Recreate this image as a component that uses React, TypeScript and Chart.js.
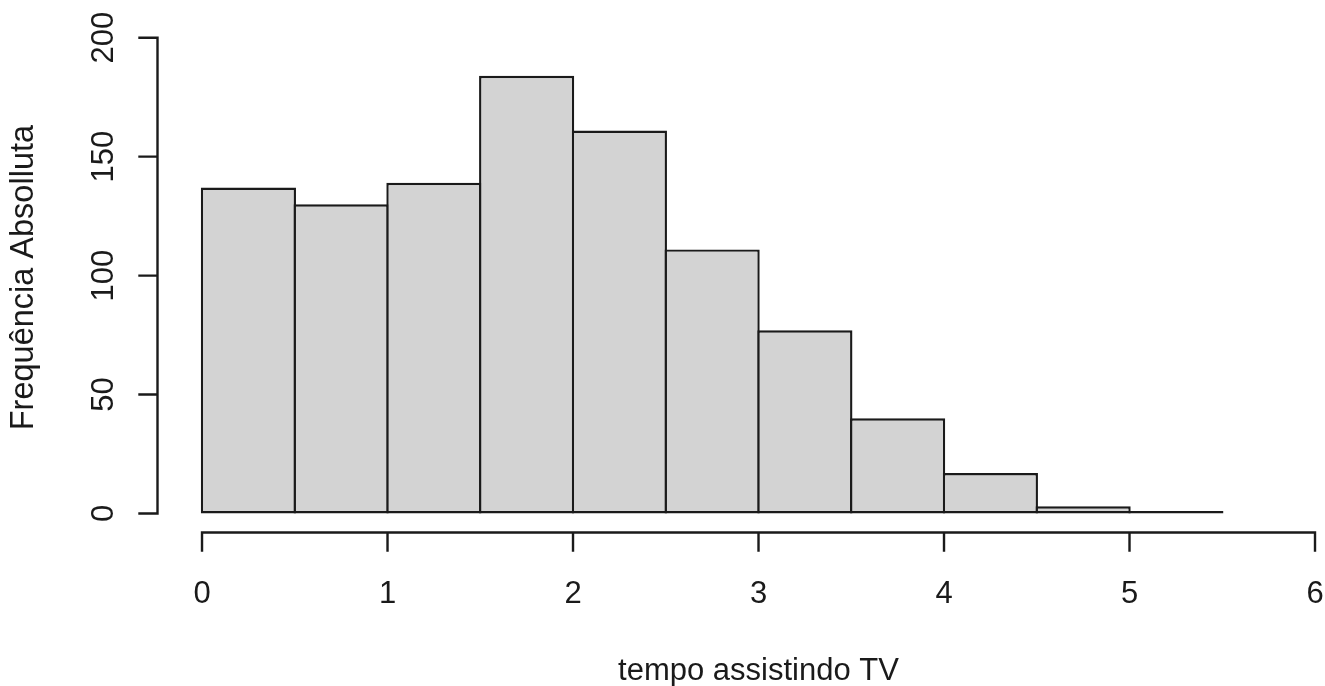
import React, { useEffect, useRef } from "react";
import { Chart, registerables } from "chart.js";

Chart.register(...registerables);

// Histogram bins (start of each bin) and absolute frequencies
const binStarts = [0, 0.5, 1, 1.5, 2, 2.5, 3, 3.5, 4, 4.5, 5];
const binWidth = 0.5;
const counts = [137, 130, 139, 184, 161, 111, 77, 40, 17, 3, 1];

const xTicks = [0, 1, 2, 3, 4, 5, 6];
const yTicks = [0, 50, 100, 150, 200];

const xTitle = "tempo assistindo TV";
const yTitle = "Frequência Absolluta";

const FONT = "31px 'Liberation Sans', Arial, sans-serif";
const YTITLE_FONT = "32.5px 'Liberation Sans', Arial, sans-serif";
const INK = "#1a1a1a";

const rAxesPlugin = {
  id: "rAxes",
  afterDraw(chart: any) {
    const { ctx, chartArea, scales } = chart;
    const xs = scales.x;
    const ys = scales.y;
    ctx.save();
    ctx.strokeStyle = INK;
    ctx.fillStyle = INK;
    ctx.lineWidth = 2.4;
    ctx.lineCap = "square";
    ctx.font = FONT;

    // x axis
    const xAxisY = chartArea.bottom;
    const x0 = xs.getPixelForValue(xTicks[0]);
    const x1 = xs.getPixelForValue(xTicks[xTicks.length - 1]);
    ctx.beginPath();
    ctx.moveTo(x0, xAxisY);
    ctx.lineTo(x1, xAxisY);
    xTicks.forEach((t) => {
      const px = xs.getPixelForValue(t);
      ctx.moveTo(px, xAxisY);
      ctx.lineTo(px, xAxisY + 18);
    });
    ctx.stroke();
    ctx.textAlign = "center";
    ctx.textBaseline = "alphabetic";
    xTicks.forEach((t) => {
      ctx.fillText(String(t), xs.getPixelForValue(t), xAxisY + 70);
    });
    ctx.fillText(xTitle, (x0 + x1) / 2, xAxisY + 147);

    // y axis
    const yAxisX = chartArea.left;
    const y0 = ys.getPixelForValue(yTicks[0]);
    const y1 = ys.getPixelForValue(yTicks[yTicks.length - 1]);
    ctx.beginPath();
    ctx.moveTo(yAxisX, y0);
    ctx.lineTo(yAxisX, y1);
    yTicks.forEach((t) => {
      const py = ys.getPixelForValue(t);
      ctx.moveTo(yAxisX, py);
      ctx.lineTo(yAxisX - 18, py);
    });
    ctx.stroke();
    yTicks.forEach((t) => {
      const py = ys.getPixelForValue(t);
      ctx.save();
      ctx.translate(yAxisX - 45, py);
      ctx.rotate(-Math.PI / 2);
      ctx.fillText(String(t), 0, 0);
      ctx.restore();
    });
    ctx.save();
    ctx.font = YTITLE_FONT;
    ctx.translate(yAxisX - 124.5, (y0 + y1) / 2 + 2);
    ctx.rotate(-Math.PI / 2);
    ctx.fillText(yTitle, 0, 0);
    ctx.restore();

    ctx.restore();
  },
};

export default function App() {
  const canvasRef = useRef<HTMLCanvasElement | null>(null);

  useEffect(() => {
    const canvas = canvasRef.current;
    if (!canvas) return;
    const data = binStarts.map((s, i) => ({ x: s + binWidth / 2, y: counts[i] }));
    const chart = new Chart(canvas, {
      type: "bar",
      data: {
        datasets: [
          {
            data,
            backgroundColor: "#d3d3d3",
            borderColor: INK,
            borderWidth: 2.4,
            borderSkipped: false,
            inflateAmount: 0,
            barPercentage: 1.026,
            categoryPercentage: 1,
          } as any,
        ],
      },
      options: {
        animation: false,
        responsive: false,
        devicePixelRatio: 1,
        layout: { padding: { left: 157.5, right: 2, top: 18.7, bottom: 153.5 } },
        plugins: { legend: { display: false }, tooltip: { enabled: false } },
        scales: {
          x: { type: "linear", min: -0.24, max: 6.0431, display: false, offset: false },
          y: { type: "linear", min: -8, max: 208, display: false },
        },
      },
      plugins: [rAxesPlugin],
    });
    return () => chart.destroy();
  }, []);

  return (
    <div style={{ position: "fixed", left: 0, top: 0, width: 1325, height: 686, background: "#fff" }}>
      <canvas ref={canvasRef} width={1325} height={686} style={{ display: "block" }} />
    </div>
  );
}
